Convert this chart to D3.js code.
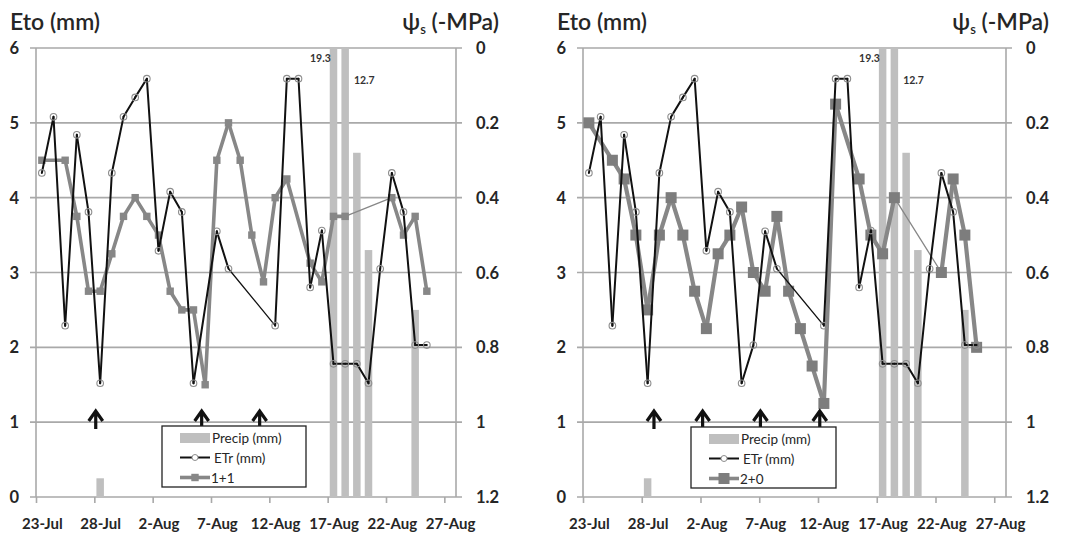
<!DOCTYPE html>
<html><head><meta charset="utf-8">
<script src="https://cdn.jsdelivr.net/npm/d3@7/dist/d3.min.js"></script>
<style>body{margin:0;background:#fff}svg{display:block;font-family:Lato,"Open Sans",sans-serif}</style>
</head><body><svg id="c" width="1065" height="539"></svg>
<script>
// ---- data ----
const startDay = new Date(2000, 6, 23);   // 23-Jul
const endDay = new Date(2000, 7, 28);     // exclusive (27-Aug last)
const days = d3.timeDay.range(startDay, endDay);
const tickDates = d3.timeDay.range(startDay, endDay, 1).filter((d, i) => i % 5 === 0);
const yTicks = [0, 1, 2, 3, 4, 5, 6];
const psiTicks = ["0", "0.2", "0.4", "0.6", "0.8", "1", "1.2"];

// ETr (mm), reference ET
const etrLeft = [4.33, 5.08, 2.29, 4.84, 3.81, 1.52, 4.33, 5.08, 5.34, 5.59, 3.29, 4.08, 3.81, 1.52, null, 3.55, 3.05, null, null, null, 2.29, 5.59, 5.59, 2.80, 3.56, 1.78, 1.78, 1.78, 1.52, 3.05, 4.33, 3.81, 2.03, 2.03, null, null];
const etrRight = [4.33, 5.08, 2.29, 4.84, 3.81, 1.52, 4.33, 5.08, 5.34, 5.59, 3.29, 4.08, 3.81, 1.52, 2.03, 3.55, 3.05, null, null, null, 2.29, 5.59, 5.59, 2.80, 3.56, 1.78, 1.78, 1.78, 1.52, 3.05, 4.33, 3.81, 2.03, 2.03, null, null];
// stem water potential (-MPa)
const psi11 = [0.30, null, 0.30, 0.45, 0.65, 0.65, 0.55, 0.45, 0.40, 0.45, 0.50, 0.65, 0.70, 0.70, 0.90, 0.30, 0.20, 0.30, 0.50, 0.625, 0.40, 0.35, null, 0.575, 0.625, 0.45, 0.45, null, null, null, 0.40, 0.50, 0.45, 0.65, null, null];
const psi20 = [0.20, null, 0.30, 0.35, 0.50, 0.70, 0.50, 0.40, 0.50, 0.65, 0.75, 0.55, 0.50, 0.425, 0.60, 0.65, 0.45, 0.65, 0.75, 0.85, 0.95, 0.15, null, 0.35, 0.50, 0.55, 0.40, null, null, null, 0.60, 0.35, 0.50, 0.80, null, null];
// precipitation (mm)
const precip = [null, null, null, null, null, 0.25, null, null, null, null, null, null, null, null, null, null, null, null, null, null, null, null, null, null, null, 19.3, 12.7, 4.6, 3.3, null, null, null, 2.5, null, null, null];
// irrigation arrows (day index, fractional)
const arrows11 = [4.62, 13.7, 18.67];
const arrows20 = [5.54, 9.68, 14.6, 19.65];

// ---- layout ----
const panels = [
  {x0: 36, x1: 456, etr: etrLeft, psi: psi11, name: "1+1", marker: "diamond", arrows: arrows11, lg: {x: 162, y: 426, w: 144, h: 61}},
  {x0: 583, x1: 1006, etr: etrRight, psi: psi20, name: "2+0", marker: "square", arrows: arrows20, lg: {x: 691, y: 427, w: 145, h: 61}}
];
const yTop = 48, yBot = 497;
const svg = d3.select("#c");
const grid = "#a9a9a9", txt = "#262626";

panels.forEach(p => {
  const g = svg.append("g");
  const x = d3.scaleTime().domain([startDay, endDay]).range([p.x0, p.x1]);
  const half = (x(days[1]) - x(days[0])) / 2;
  const cx = i => x(days[i]) + half;
  const y = d3.scaleLinear().domain([0, 6]).range([yBot, yTop]);
  const y2 = d3.scaleLinear().domain([0, 1.2]).range([yTop, yBot]);

  // gridlines
  g.selectAll(".gl").data(yTicks).join("line")
    .attr("x1", p.x0 - 6).attr("x2", p.x1 + 6)
    .attr("y1", d => y(d)).attr("y2", d => y(d))
    .attr("stroke", grid).attr("stroke-width", 1.6);
  // frame verticals
  [p.x0, p.x1].forEach(xx => g.append("line").attr("x1", xx).attr("x2", xx)
    .attr("y1", yTop).attr("y2", yBot).attr("stroke", grid).attr("stroke-width", 1.6));

  // left axis labels
  g.selectAll(".yl").data(yTicks).join("text")
    .attr("x", p.x0 - 17).attr("y", d => y(d) + 6).attr("text-anchor", "end")
    .attr("font-size", 16.5).attr("font-weight", 700).attr("fill", txt).text(d => d);
  // right axis labels
  g.selectAll(".y2l").data(psiTicks).join("text")
    .attr("x", p.x1 + 20).attr("y", d => y2(+d) + 6)
    .attr("font-size", 16.5).attr("font-weight", 700).attr("fill", txt).text(d => d);

  // x axis
  const xa = d3.axisBottom(x).tickValues(tickDates).tickSize(6).tickFormat(d3.timeFormat("%-d-%b"));
  const ax = g.append("g").attr("transform", `translate(0,${yBot})`).call(xa);
  ax.select(".domain").remove();
  ax.selectAll(".tick line").attr("stroke", grid).attr("stroke-width", 1.6);
  ax.selectAll(".tick text").attr("dx", half).attr("y", 21)
    .attr("font-size", 15).attr("font-weight", 700).attr("fill", txt).attr("font-family", "Lato,sans-serif");
  // axis titles
  g.append("text").attr("x", p.x0 - 26).attr("y", 30).attr("font-size", 23).attr("fill", txt)
    .attr("font-weight", 600).text("Eto (mm)");
  const t2 = g.append("text").attr("x", p.x1 + 43).attr("y", 30).attr("text-anchor", "end")
    .attr("font-size", 23).attr("fill", txt).attr("font-weight", 600);
  t2.append("tspan").text("ψ");
  t2.append("tspan").attr("font-size", 13).attr("dy", 4).text("s");
  t2.append("tspan").attr("dy", -4).text(" (-MPa)");

  // precip bars
  const bw = 7.5;
  const pd = precip.map((v, i) => ({v, i})).filter(d => d.v != null);
  g.selectAll(".bar").data(pd).join("rect")
    .attr("x", d => cx(d.i) - bw / 2).attr("width", bw)
    .attr("y", d => y(Math.min(d.v, 6))).attr("height", d => yBot - y(Math.min(d.v, 6)))
    .attr("fill", "#bfbfbf");
  const over = pd.filter(d => d.v > 6);
  over.forEach((d, k) => {
    g.append("text").attr("x", k === 0 ? cx(d.i) - bw / 2 + 1 : cx(d.i) + bw / 2 + 5)
      .attr("y", k === 0 ? 62 : 84).attr("text-anchor", k === 0 ? "end" : "start")
      .attr("font-size", 10.5).attr("font-weight", 700).attr("fill", "#333").text(d.v);
  });

  // helper: draw series with thick line across short gaps and thin across long gaps
  function drawSeries(vals, yf, color, thick) {
    const pts = vals.map((v, i) => ({v, i})).filter(d => d.v != null);
    for (let k = 1; k < pts.length; k++) {
      const a = pts[k - 1], b = pts[k];
      const gap = b.i - a.i - 1;
      g.append("line").attr("x1", cx(a.i)).attr("y1", yf(a.v)).attr("x2", cx(b.i)).attr("y2", yf(b.v))
        .attr("stroke", color).attr("stroke-width", gap >= 2 ? 1.3 : thick).attr("stroke-linecap", "round");
    }
    return pts;
  }

  // psi series
  const mcol = "#878787";
  const pp = drawSeries(p.psi, y2, mcol, p.marker === "square" ? 4.2 : 3.6);
  if (p.marker === "diamond") {
    g.selectAll(".mk").data(pp).join("path")
      .attr("d", d3.symbol(d3.symbolDiamond2, 70))
      .attr("transform", d => `translate(${cx(d.i)},${y2(d.v)}) rotate(45)`)
      .attr("fill", mcol);
  } else {
    g.selectAll(".mk").data(pp).join("rect")
      .attr("x", d => cx(d.i) - 5.5).attr("y", d => y2(d.v) - 5.5).attr("width", 11).attr("height", 11)
      .attr("fill", "#7d7d7d");
  }

  // ETr
  const ep = drawSeries(p.etr, y, "#111", 2);
  g.selectAll(".em").data(ep).join("circle")
    .attr("cx", d => cx(d.i)).attr("cy", d => y(d.v)).attr("r", 3.3)
    .attr("fill", "none").attr("stroke", "#8d8d8d").attr("stroke-width", 1.1);

  // arrows
  p.arrows.forEach(a => {
    const ax0 = x(days[0]) + half * 2 * (a + 0.5);
    g.append("path").attr("d", `M${ax0},429 L${ax0},412 M${ax0 - 7},421 L${ax0},411 L${ax0 + 7},421`)
      .attr("stroke", "#111").attr("stroke-width", 3.2).attr("fill", "none")
      .attr("stroke-linejoin", "miter");
  });

  // legend
  const L = p.lg;
  const lg = g.append("g").attr("transform", `translate(${L.x},${L.y})`);
  lg.append("rect").attr("width", L.w).attr("height", L.h).attr("fill", "#fff").attr("stroke", "#222").attr("stroke-width", 1.3);
  lg.append("rect").attr("x", 18).attr("y", 7).attr("width", 30).attr("height", 10).attr("fill", "#bfbfbf");
  lg.append("text").attr("x", 50).attr("y", 16.5).attr("font-size", 13.5).attr("fill", txt).text("Precip (mm)");
  lg.append("line").attr("x1", 18).attr("x2", 48).attr("y1", 31.5).attr("y2", 31.5).attr("stroke", "#111").attr("stroke-width", 2);
  lg.append("circle").attr("cx", 33).attr("cy", 31.5).attr("r", 3).attr("fill", "#fff").attr("stroke", "#8d8d8d");
  lg.append("text").attr("x", 52).attr("y", 36.5).attr("font-size", 13.5).attr("fill", txt).text("ETr  (mm)");
  lg.append("line").attr("x1", 18).attr("x2", 48).attr("y1", 51.5).attr("y2", 51.5).attr("stroke", mcol).attr("stroke-width", 3.6);
  if (p.marker === "diamond") {
    lg.append("path").attr("d", d3.symbol(d3.symbolDiamond2, 70)).attr("transform", "translate(33,51.5) rotate(45)").attr("fill", mcol);
  } else {
    lg.append("rect").attr("x", 27.5).attr("y", 46).attr("width", 11).attr("height", 11).attr("fill", "#7d7d7d");
  }
  lg.append("text").attr("x", 49).attr("y", 56.5).attr("font-size", 13.5).attr("fill", txt).text(p.name);
});
</script>
</body></html>
